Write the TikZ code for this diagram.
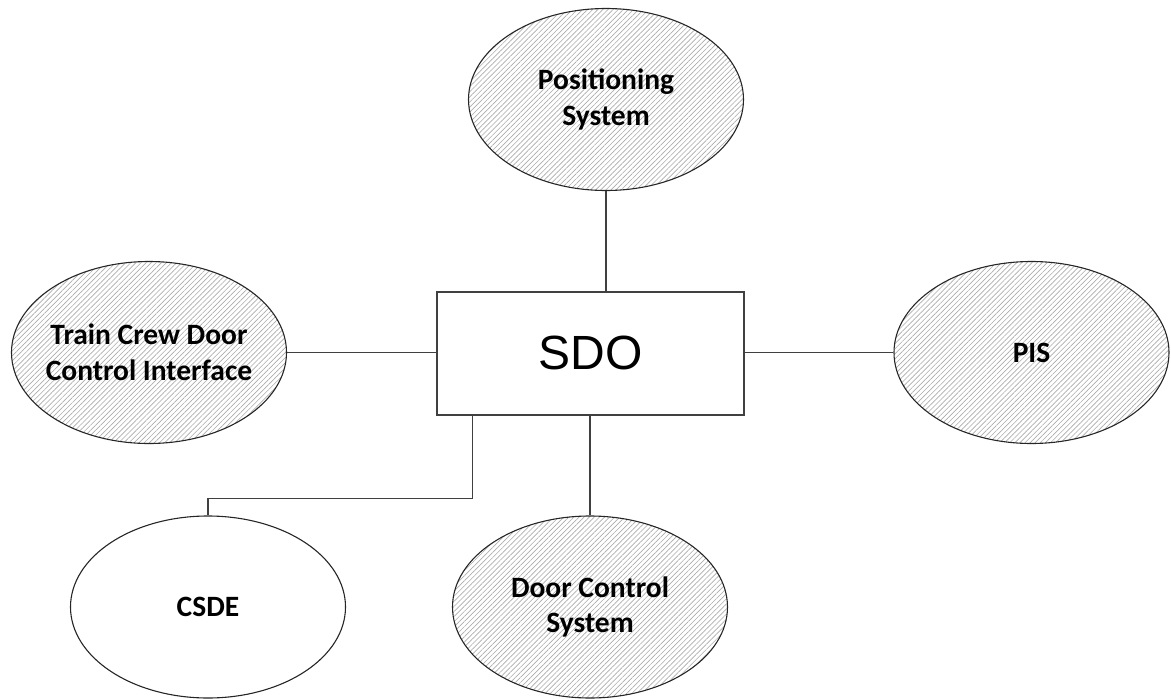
\documentclass[tikz,border=0pt]{standalone}
\usepackage{fontspec}
\setmainfont{Carlito}
\newfontfamily\arialfont{Liberation Sans}
\usetikzlibrary{shapes.geometric,patterns.meta}
\definecolor{linegray}{HTML}{404040}
\definecolor{hatchgray}{HTML}{ABABAB}
\begin{document}
\begin{tikzpicture}[x=1pt,y=-1pt,
  sys/.style={ellipse, draw=black!85, line width=1.1pt, minimum width=275pt, minimum height=182pt,
    inner xsep=-8pt, inner ysep=0pt, align=center,
    font=\fontsize{29.5}{35.5}\selectfont\bfseries},
  hatched/.style={sys, pattern={Lines[angle=45,distance=3.6pt,line width=0.65pt]}, pattern color=hatchgray},
  plain/.style={sys, fill=white},
  box/.style={rectangle, draw=linegray, line width=1.3pt, minimum width=307pt, minimum height=123pt,
    inner sep=0pt, font=\arialfont\fontsize{48}{50}\selectfont},
  conn/.style={draw=linegray, line width=1.3pt}]
\useasboundingbox (0,0) rectangle (1171,699);
\node[box] (sdo) at (590.5,353.5) {\raisebox{2pt}{SDO}};
\node[hatched] (pos) at (606,99.5) {Positioning\\System};
\node[hatched] (tc) at (149,352.5) {Train Crew Door\\Control Interface};
\node[hatched] (pis) at (1031.5,352.5) {PIS};
\node[plain] (csde) at (208,607) {CSDE};
\node[hatched] (door) at (590,607) {Door Control\\System};
\draw[conn] (pos.south) -- (pos.south |- sdo.north);
\draw[conn] (tc.east) -- (tc.east -| sdo.west);
\draw[conn] (sdo.east |- pis.west) -- (pis.west);
\draw[conn] (sdo.south -| door.north) -- (door.north);
\draw[conn] ([xshift=36pt]sdo.south west) -- ++(0,83) -| (csde.north);
\end{tikzpicture}
\end{document}
